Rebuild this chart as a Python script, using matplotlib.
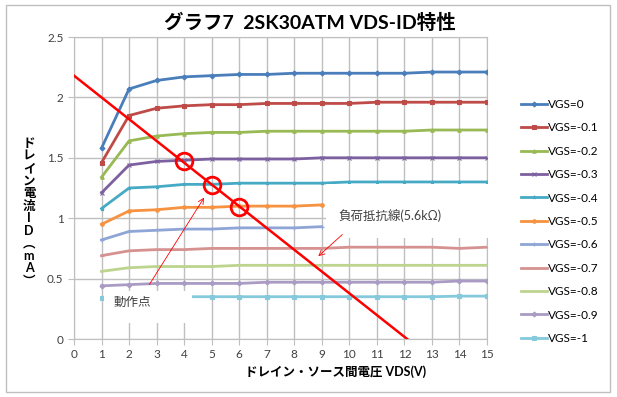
import matplotlib
matplotlib.use('Agg')
import matplotlib.pyplot as plt
from matplotlib.patches import Rectangle

plt.rcParams['font.family'] = ['Lato', 'Noto Sans CJK JP', 'DejaVu Sans']

# Data
vds = list(range(1, 16))
vgs_labels = ['VGS=0', 'VGS=-0.1', 'VGS=-0.2', 'VGS=-0.3', 'VGS=-0.4', 'VGS=-0.5',
              'VGS=-0.6', 'VGS=-0.7', 'VGS=-0.8', 'VGS=-0.9', 'VGS=-1']
id_0 = [1.58, 2.07, 2.14, 2.17, 2.18, 2.19, 2.19, 2.20, 2.20, 2.20, 2.20, 2.20, 2.21, 2.21, 2.21]
id_01 = [1.46, 1.85, 1.91, 1.93, 1.94, 1.94, 1.95, 1.95, 1.95, 1.95, 1.96, 1.96, 1.96, 1.96, 1.96]
id_02 = [1.34, 1.64, 1.68, 1.70, 1.71, 1.71, 1.72, 1.72, 1.72, 1.72, 1.72, 1.72, 1.73, 1.73, 1.73]
id_03 = [1.21, 1.44, 1.47, 1.48, 1.49, 1.49, 1.49, 1.49, 1.50, 1.50, 1.50, 1.50, 1.50, 1.50, 1.50]
id_04 = [1.08, 1.25, 1.26, 1.28, 1.28, 1.29, 1.29, 1.29, 1.29, 1.30, 1.30, 1.30, 1.30, 1.30, 1.30]
id_05 = [0.95, 1.06, 1.07, 1.09, 1.09, 1.10, 1.10, 1.10, 1.11]
id_06 = [0.82, 0.89, 0.90, 0.91, 0.91, 0.92, 0.92, 0.92, 0.93]
id_07 = [0.69, 0.73, 0.74, 0.74, 0.75, 0.75, 0.75, 0.75, 0.75, 0.76, 0.76, 0.76, 0.76, 0.75, 0.76]
id_08 = [0.56, 0.59, 0.60, 0.60, 0.60, 0.61, 0.61, 0.61, 0.61, 0.61, 0.61, 0.61, 0.61, 0.61, 0.61]
id_09 = [0.44, 0.45, 0.46, 0.46, 0.46, 0.46, 0.47, 0.47, 0.47, 0.47, 0.47, 0.47, 0.47, 0.48, 0.48]
id_10 = [0.34, 0.34, 0.35, 0.35, 0.35, 0.35, 0.35, 0.35, 0.35, 0.35, 0.35, 0.35, 0.35, 0.355, 0.355]
series = [id_0, id_01, id_02, id_03, id_04, id_05, id_06, id_07, id_08, id_09, id_10]

colors = ['#4A7EBB', '#BE4B48', '#98B954', '#7D60A0', '#46AAC5', '#F69240',
          '#8EA5D6', '#D59290', '#BCD48E', '#A99BC4', '#84C9DC']
markers = ['D', 's', '^', 'x', '*', 'o', '+', '_', '_', 'D', 's']

# load line 5.6k and operating points
load_v = [0, 12.1]
load_i = [2.18, 0]
op_v = [4, 5, 6]
op_i = [1.47, 1.275, 1.09]

fig = plt.figure(figsize=(6.17, 3.97), dpi=100)
ax = fig.add_axes([74 / 617, 58 / 397, 413 / 617, 302 / 397])

for ys, c, m, lab in zip(series, colors, markers, vgs_labels):
    ax.plot(vds[:len(ys)], ys, color=c, lw=2, marker=m, ms=2.5, mew=0.8,
            label=lab, zorder=3)

ax.plot(load_v, load_i, color='#FF0000', lw=1.8, zorder=4)
ax.plot(op_v, op_i, ls='none', marker='o', ms=12, mfc='none', mec='#FF0000',
        mew=2, zorder=5)

# white text boxes covering lines, like in the source sheet
ax.add_patch(Rectangle((1.1, 0.13), 3.18, 0.27, facecolor='white',
                       edgecolor='none', zorder=6))
ax.add_patch(Rectangle((9.17, 0.835), 6.3, 0.45, facecolor='white',
                       edgecolor='none', zorder=6, clip_on=False))
ax.text(2.11, 0.31, '動作点', ha='center', va='center', fontsize=9,
        color='#404040', zorder=7)
ax.text(11.48, 1.02, '負荷抵抗線(5.6kΩ)', ha='center', va='center', fontsize=9,
        color='#404040', zorder=7)
ax.annotate('', xy=(4.78, 1.19), xytext=(2.68, 0.43),
            arrowprops=dict(arrowstyle='->', color='#FF0000', lw=0.6), zorder=7)
ax.annotate('', xy=(8.8, 0.67), xytext=(9.82, 0.88),
            arrowprops=dict(arrowstyle='->', color='#FF0000', lw=0.6), zorder=7)

ax.set_xlim(0, 15)
ax.set_ylim(0, 2.5)
ax.set_xticks(range(0, 16))
ax.set_yticks([0, 0.5, 1, 1.5, 2, 2.5])
ax.set_yticklabels(['0', '0.5', '1', '1.5', '2', '2.5'])
ax.grid(True, color='#BFBFBF', lw=1)
ax.set_axisbelow(True)
for s in ax.spines.values():
    s.set_color('#BFBFBF')
ax.tick_params(colors='#404040', labelsize=8.5, length=4, color='#BFBFBF')

fig.text(310 / 617, 1 - 22 / 397, 'グラフ7  2SK30ATM VDS-ID特性', ha='center',
         va='center', fontsize=14, fontweight='bold', color='black')
fig.text(336 / 617, 1 - 372 / 397, 'ドレイン・ソース間電圧 VDS(V)', ha='center',
         va='center', fontsize=9, fontweight='bold', color='black')
ylab = ['ド', 'レ', 'イ', 'ン', '電', '流', 'I', 'D', '︵', 'm', 'A', '︶']
fig.text(29 / 617, 1 - 212 / 397, '\n'.join(ylab), ha='center', va='center',
         fontsize=9, fontweight='bold', color='black', linespacing=1.05)

fig.legend(loc='center left', bbox_to_anchor=(515 / 617, 1 - 221.5 / 397),
           frameon=False, fontsize=8.5, labelspacing=1.05, handlelength=2.2,
           handletextpad=0.1, borderpad=0)

fig.patches.append(Rectangle((6 / 617, 5 / 397), 604 / 617, 387 / 397,
                             transform=fig.transFigure, facecolor='none',
                             edgecolor='#BFBFBF', lw=1))

fig.savefig('out.png', dpi=100)
